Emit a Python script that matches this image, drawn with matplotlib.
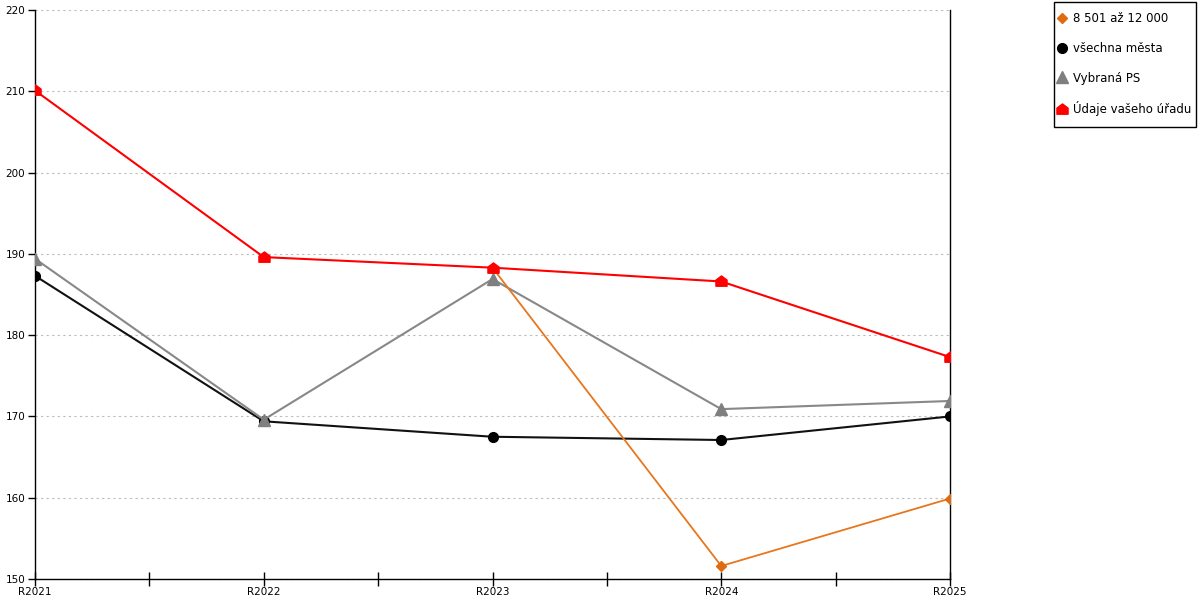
import numpy as np
import matplotlib
matplotlib.use("Agg")
import matplotlib.pyplot as plt
from matplotlib.path import Path
from matplotlib.lines import Line2D
from matplotlib.patches import Rectangle

categories = ["R2021", "R2022", "R2023", "R2024", "R2025"]
s_orange = [np.nan, np.nan, 188.3, 151.6, 159.9]
s_black = [187.3, 169.4, 167.5, 167.1, 170.0]
s_gray = [189.4, 169.6, 186.9, 170.9, 171.9]
s_red = [210.1, 189.6, 188.3, 186.6, 177.3]
labels = ["8 501 až 12 000", "všechna města", "Vybraná PS", "Údaje vašeho úřadu"]
yticks = [150, 160, 170, 180, 190, 200, 210, 220]

plt.rcParams['font.family'] = ['DejaVu Sans']

house = Path([(-1, -0.85), (1, -0.85), (1, 0.25), (0, 1.0), (-1, 0.25), (-1, -0.85)],
             [Path.MOVETO, Path.LINETO, Path.LINETO, Path.LINETO, Path.LINETO, Path.CLOSEPOLY])

W, H = 1200, 600
fig = plt.figure(figsize=(12, 6), dpi=100)
ax = fig.add_axes([35/W, 1 - 579/H, (950 - 35)/W, (579 - 10)/H])
x = np.arange(len(categories))

c_orange = '#e8761c'
c_black = '#000000'
c_gray = '#888888'
c_red = '#ff0000'

m_orange = dict(marker='D', ms=5.5, mfc='#e06a10', mec='#e06a10')
m_black = dict(marker='o', ms=7, mfc=c_black, mec=c_black)
m_gray = dict(marker='^', ms=8, mfc='#7f7f7f', mec='#7f7f7f')
m_red = dict(marker=house, ms=8, mfc=c_red, mec=c_red)

ax.plot(x, s_black, color='#111111', lw=1.5, zorder=3, **m_black)
ax.plot(x, s_gray, color=c_gray, lw=1.5, zorder=4, **m_gray)
ax.plot(x, s_orange, color=c_orange, lw=1.3, zorder=5, **m_orange)
ax.plot(x, s_red, color=c_red, lw=1.5, zorder=6, **m_red)

ax.set_xlim(0, len(categories) - 1)
ax.set_ylim(150, 220)
ax.set_yticks(yticks)
ax.set_yticklabels([str(v) for v in yticks], fontsize=7.5)
ax.set_xticks(x)
ax.set_xticklabels(categories, fontsize=7.5)
ax.set_xticks(x[:-1] + 0.5, minor=True)
ax.tick_params(axis='x', which='both', direction='inout', length=10, width=1, pad=1)
ax.tick_params(axis='y', direction='out', length=5, width=1, pad=2)
ax.yaxis.grid(True, linestyle=(0, (2, 3)), color='#bbbbbb', lw=0.8)
ax.set_axisbelow(True)
ax.spines['top'].set_visible(False)
for s in ['left', 'bottom', 'right']:
    ax.spines[s].set_color('black')
    ax.spines[s].set_linewidth(1)

handles = [
    Line2D([], [], ls='none', **m_orange),
    Line2D([], [], ls='none', **m_black),
    Line2D([], [], ls='none', **m_gray),
    Line2D([], [], ls='none', **m_red),
]
leg = fig.legend(handles, labels, loc='upper left', bbox_to_anchor=(1057/W, 1 - 12/H),
                 frameon=False, fontsize=8.5,
                 labelspacing=1.42, handlelength=0.8, handletextpad=0.55,
                 borderpad=0, borderaxespad=0)
fig.patches.append(Rectangle((1054/W, 1 - 127/H), (1196 - 1054)/W, (127 - 2)/H,
                             transform=fig.transFigure, fill=False, edgecolor='black', lw=1))

fig.savefig('out.png', dpi=100)
